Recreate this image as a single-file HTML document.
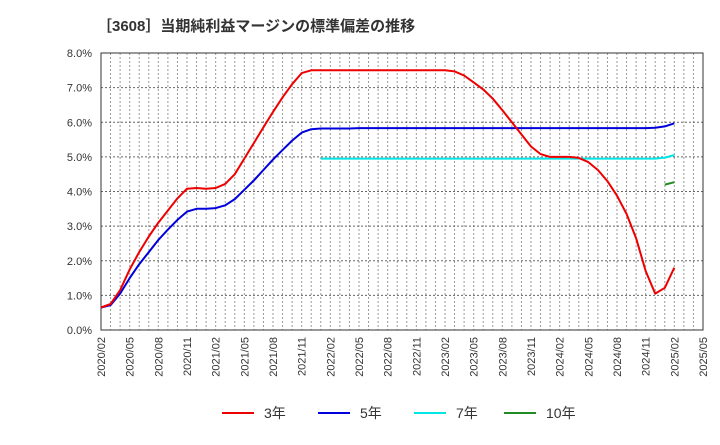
<!DOCTYPE html>
<html><head><meta charset="utf-8"><style>
body{margin:0;background:#fff;font-family:"Liberation Sans","Noto Sans CJK JP",sans-serif}
</style></head><body>
<svg width="720" height="440" xmlns="http://www.w3.org/2000/svg" font-family="Liberation Sans, Noto Sans CJK JP, sans-serif">
<text x="97" y="31" font-size="15" font-weight="bold" fill="#333">［3608］当期純利益マージンの標準偏差の推移</text>
<g id="grid"></g><g id="axes"></g><g id="series"></g><g id="legend"></g>
</svg>
<script>
const xTicks=["2020/02","2020/05","2020/08","2020/11","2021/02","2021/05","2021/08","2021/11","2022/02","2022/05","2022/08","2022/11","2023/02","2023/05","2023/08","2023/11","2024/02","2024/05","2024/08","2024/11","2025/02","2025/05"];
const yTicks=[0,1,2,3,4,5,6,7,8];
const s3=[0.65,0.75,1.15,1.75,2.25,2.7,3.1,3.45,3.8,4.08,4.1,4.08,4.1,4.22,4.5,4.95,5.4,5.85,6.3,6.72,7.1,7.42,7.5,7.5,7.5,7.5,7.5,7.5,7.5,7.5,7.5,7.5,7.5,7.5,7.5,7.5,7.5,7.47,7.35,7.15,6.95,6.68,6.35,6.0,5.65,5.3,5.08,5.0,5.0,5.0,4.97,4.85,4.62,4.3,3.88,3.35,2.65,1.7,1.05,1.22,1.8];
const s5=[0.65,0.72,1.05,1.5,1.9,2.25,2.6,2.9,3.18,3.42,3.5,3.5,3.52,3.6,3.78,4.05,4.32,4.62,4.92,5.2,5.47,5.7,5.8,5.82,5.82,5.82,5.82,5.83,5.83,5.83,5.83,5.83,5.83,5.83,5.83,5.83,5.83,5.83,5.83,5.83,5.83,5.83,5.83,5.83,5.83,5.83,5.83,5.83,5.83,5.83,5.83,5.83,5.83,5.83,5.83,5.83,5.83,5.83,5.84,5.88,5.97];
const s7=[null,null,null,null,null,null,null,null,null,null,null,null,null,null,null,null,null,null,null,null,null,null,null,4.95,4.95,4.95,4.95,4.95,4.95,4.95,4.95,4.95,4.95,4.95,4.95,4.95,4.95,4.95,4.95,4.95,4.95,4.95,4.95,4.95,4.95,4.95,4.95,4.95,4.95,4.95,4.95,4.95,4.95,4.95,4.95,4.95,4.95,4.95,4.95,4.98,5.05];
const s10=[null,null,null,null,null,null,null,null,null,null,null,null,null,null,null,null,null,null,null,null,null,null,null,null,null,null,null,null,null,null,null,null,null,null,null,null,null,null,null,null,null,null,null,null,null,null,null,null,null,null,null,null,null,null,null,null,null,null,null,4.2,4.27];
const L=101,R=703,T=53,B=330,NM=63;
const X=i=>L+(R-L)*i/NM, Y=v=>B-(B-T)*v/8;
const NS="http://www.w3.org/2000/svg";
function mk(p,tag,a){const e=document.createElementNS(NS,tag);for(const k in a)e.setAttribute(k,a[k]);p.appendChild(e);return e;}
const grid=document.getElementById('grid'),axes=document.getElementById('axes'),ser=document.getElementById('series'),leg=document.getElementById('legend');
for(let i=1;i<NM;i++){const l=mk(grid,'line',{x1:X(i),x2:X(i),y1:T,y2:B,stroke:'#999','stroke-dasharray':'2,2','stroke-width':1});

}
yTicks.forEach(v=>{if(v>0&&v<8){const l=mk(grid,'line',{x1:L,x2:R,y1:Y(v),y2:Y(v),stroke:'#666','stroke-dasharray':'2,2','stroke-width':1});

}
const t=mk(axes,'text',{x:92,y:Y(v)+4,'text-anchor':'end','font-size':11,fill:'#333'});t.textContent=v.toFixed(1)+'%';

});
xTicks.forEach((s,i)=>{const x=X(i*3);const t=mk(axes,'text',{x:0,y:0,transform:`translate(${x+4},337) rotate(-90)`,'text-anchor':'end','font-size':11,fill:'#333'});t.textContent=s;

});
const fr=mk(axes,'rect',{x:L,y:T,width:R-L,height:B-T,fill:'none',stroke:'#333','stroke-width':1});


function line(d,c,name){let p='',pen=false;d.forEach((v,i)=>{if(v==null){pen=false;return;}p+=(pen?'L':'M')+X(i).toFixed(1)+','+Y(v).toFixed(1);pen=true;});
const e=mk(ser,'path',{d:p,fill:'none',stroke:c,'stroke-width':2,'stroke-linejoin':'round'});

}
line(s7,'#00e5e5','series-7y');line(s5,'#0000dd','series-5y');line(s3,'#ee0000','series-3y');line(s10,'#228b22','series-10y');
const items=[['3年','#ee0000',222],['5年','#0000dd',318],['7年','#00e5e5',414],['10年','#228b22',504]];
items.forEach(([n,c,x])=>{const g=mk(leg,'g',{});


mk(g,'line',{x1:x,x2:x+32,y1:413,y2:413,stroke:c,'stroke-width':2});
const t=mk(g,'text',{x:x+42,y:418,'font-size':14,fill:'#333'});t.textContent=n;});
</script>
</body></html>
